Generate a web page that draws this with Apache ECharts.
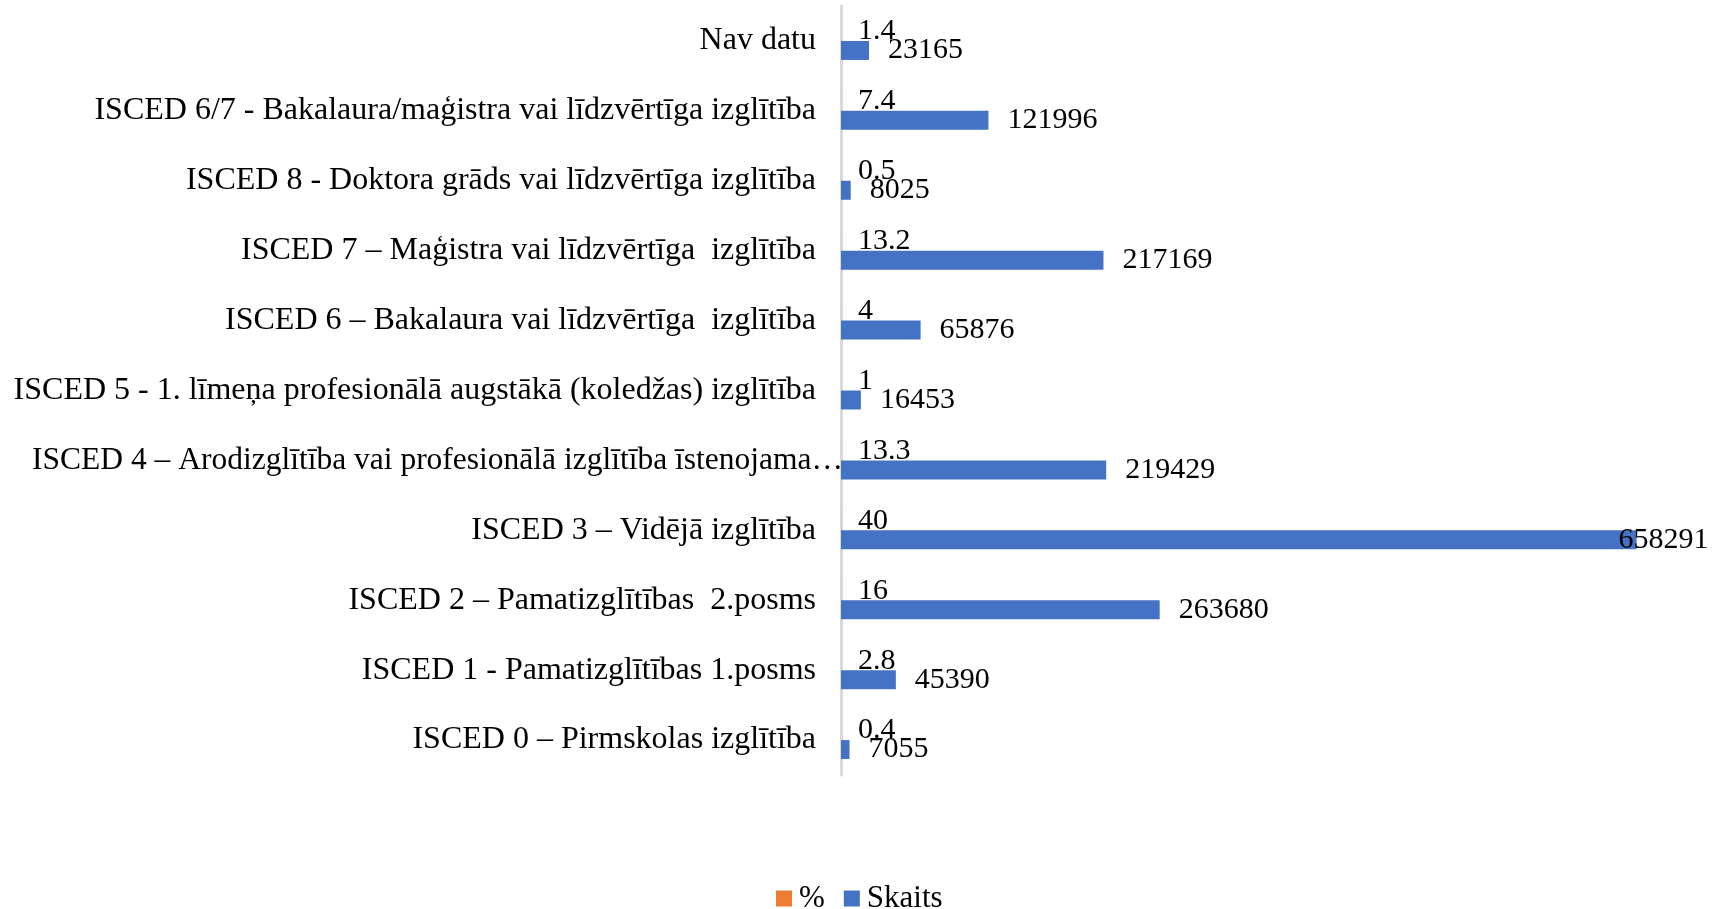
<!DOCTYPE html>
<html>
<head>
<meta charset="utf-8">
<script src="https://cdn.jsdelivr.net/npm/echarts@6/dist/echarts.min.js"></script>
<style>
html,body{margin:0;padding:0;background:#fff;}
#chart{width:1729px;height:909px;}
</style>
</head>
<body>
<div id="chart"></div>
<script>
// Categories, top to bottom as in the reference
const categories = [
  "Nav datu",
  "ISCED 6/7 - Bakalaura/maģistra vai līdzvērtīga izglītība",
  "ISCED 8 - Doktora grāds vai līdzvērtīga izglītība",
  "ISCED 7 – Maģistra vai līdzvērtīga  izglītība",
  "ISCED 6 – Bakalaura vai līdzvērtīga  izglītība",
  "ISCED 5 - 1. līmeņa profesionālā augstākā (koledžas) izglītība",
  "ISCED 4 – Arodizglītība vai profesionālā izglītība īstenojama…",
  "ISCED 3 – Vidējā izglītība",
  "ISCED 2 – Pamatizglītības  2.posms",
  "ISCED 1 - Pamatizglītības 1.posms",
  "ISCED 0 – Pirmskolas izglītība"
];
const percentValues = [1.4, 7.4, 0.5, 13.2, 4, 1, 13.3, 40, 16, 2.8, 0.4];
const countValues = [23165, 121996, 8025, 217169, 65876, 16453, 219429, 658291, 263680, 45390, 7055];
const seriesNames = ["%", "Skaits"];

const FONT = "'Liberation Serif', 'Times New Roman', serif";
const chart = echarts.init(document.getElementById('chart'));

const countData = countValues.map(v => v === Math.max(...countValues)
  ? { value: v, label: { distance: -18 } }
  : v);

// The truncated ISCED 4 label runs up to the axis line in the reference
const truncatedIdx = categories.findIndex(c => c.endsWith('…'));

chart.setOption({
  animation: false,
  backgroundColor: '#ffffff',
  grid: { left: 841, top: 6, height: 769, right: 42, containLabel: false, outerBoundsMode: 'none' },
  xAxis: {
    type: 'value', min: 0, max: 700000, show: false,
    splitLine: { show: false }
  },
  yAxis: {
    type: 'category', data: categories, inverse: true,
    axisLine: { show: true, lineStyle: { color: '#d9d9d9', width: 3 } },
    axisTick: { show: false },
    axisLabel: {
      margin: 25, color: '#000', fontFamily: FONT, fontSize: 32,
      formatter: (val, idx) => idx === truncatedIdx ? '{w|' + val + '}' : val,
      rich: { w: { fontFamily: FONT, fontSize: 31.5, color: '#000', padding: [0, -27, 0, 0] } }
    }
  },
  legend: {
    data: seriesNames, left: 776, top: 883, padding: 0,
    icon: 'rect', itemWidth: 16, itemHeight: 16, itemGap: 19,
    textStyle: { color: '#000', fontFamily: FONT, fontSize: 31, padding: [0, 0, 0, 2] }
  },
  series: [
    {
      name: seriesNames[0], type: 'bar', data: percentValues,
      barWidth: 19, barGap: '0%',
      itemStyle: { color: '#ED7D31' },
      label: { show: true, position: 'right', distance: 17, color: '#000', fontFamily: FONT, fontSize: 30 }
    },
    {
      name: seriesNames[1], type: 'bar', data: countData,
      barWidth: 19, barGap: '0%',
      itemStyle: { color: '#4472C4' },
      label: { show: true, position: 'right', distance: 19, color: '#000', fontFamily: FONT, fontSize: 30 }
    }
  ]
});
</script>
</body>
</html>
